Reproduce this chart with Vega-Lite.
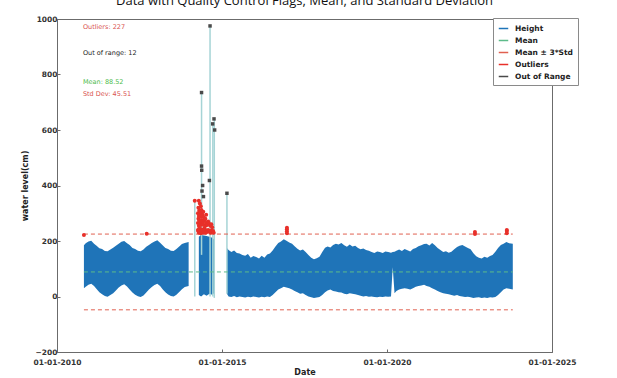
{
  "$schema": "https://vega.github.io/schema/vega-lite/v6.json",
  "width": 495,
  "height": 333,
  "autosize": {"type": "none"},
  "padding": {"left": 57, "top": 19, "right": 65, "bottom": 26},
  "background": "white",
  "title": {"text": "Data with Quality Control Flags, Mean, and Standard Deviation", "anchor": "middle", "frame": "group", "offset": -3, "fontSize": 13, "font": "Open Sans", "fontWeight": "normal", "color": "#111", "baseline": "alphabetic"},
  "datasets": {
    "band": [
      {"d": "2010-10-26", "v": 30, "v2": 185, "g": 1, "series": "Height"},
      {"d": "2010-11-15", "v": 35, "v2": 192, "g": 1, "series": "Height"},
      {"d": "2010-12-15", "v": 42, "v2": 198, "g": 1, "series": "Height"},
      {"d": "2011-01-15", "v": 46, "v2": 201, "g": 1, "series": "Height"},
      {"d": "2011-02-15", "v": 38, "v2": 190, "g": 1, "series": "Height"},
      {"d": "2011-03-15", "v": 27, "v2": 183, "g": 1, "series": "Height"},
      {"d": "2011-04-15", "v": 15, "v2": 174, "g": 1, "series": "Height"},
      {"d": "2011-05-15", "v": 8, "v2": 171, "g": 1, "series": "Height"},
      {"d": "2011-06-15", "v": 2, "v2": 164, "g": 1, "series": "Height"},
      {"d": "2011-07-15", "v": -1, "v2": 163, "g": 1, "series": "Height"},
      {"d": "2011-08-15", "v": 5, "v2": 169, "g": 1, "series": "Height"},
      {"d": "2011-09-15", "v": 12, "v2": 176, "g": 1, "series": "Height"},
      {"d": "2011-10-15", "v": 22, "v2": 183, "g": 1, "series": "Height"},
      {"d": "2011-11-15", "v": 32, "v2": 190, "g": 1, "series": "Height"},
      {"d": "2011-12-15", "v": 40, "v2": 197, "g": 1, "series": "Height"},
      {"d": "2012-01-15", "v": 44, "v2": 200, "g": 1, "series": "Height"},
      {"d": "2012-02-15", "v": 36, "v2": 192, "g": 1, "series": "Height"},
      {"d": "2012-03-15", "v": 25, "v2": 186, "g": 1, "series": "Height"},
      {"d": "2012-04-15", "v": 14, "v2": 175, "g": 1, "series": "Height"},
      {"d": "2012-05-15", "v": 6, "v2": 171, "g": 1, "series": "Height"},
      {"d": "2012-06-15", "v": 1, "v2": 165, "g": 1, "series": "Height"},
      {"d": "2012-07-15", "v": -2, "v2": 163, "g": 1, "series": "Height"},
      {"d": "2012-08-15", "v": 4, "v2": 169, "g": 1, "series": "Height"},
      {"d": "2012-09-15", "v": 14, "v2": 179, "g": 1, "series": "Height"},
      {"d": "2012-10-15", "v": 25, "v2": 186, "g": 1, "series": "Height"},
      {"d": "2012-11-15", "v": 34, "v2": 193, "g": 1, "series": "Height"},
      {"d": "2012-12-15", "v": 41, "v2": 198, "g": 1, "series": "Height"},
      {"d": "2013-01-15", "v": 46, "v2": 203, "g": 1, "series": "Height"},
      {"d": "2013-02-15", "v": 38, "v2": 194, "g": 1, "series": "Height"},
      {"d": "2013-03-15", "v": 26, "v2": 185, "g": 1, "series": "Height"},
      {"d": "2013-04-15", "v": 15, "v2": 175, "g": 1, "series": "Height"},
      {"d": "2013-05-15", "v": 7, "v2": 171, "g": 1, "series": "Height"},
      {"d": "2013-06-15", "v": 2, "v2": 165, "g": 1, "series": "Height"},
      {"d": "2013-07-15", "v": 0, "v2": 164, "g": 1, "series": "Height"},
      {"d": "2013-08-15", "v": 6, "v2": 171, "g": 1, "series": "Height"},
      {"d": "2013-09-15", "v": 16, "v2": 180, "g": 1, "series": "Height"},
      {"d": "2013-10-15", "v": 26, "v2": 189, "g": 1, "series": "Height"},
      {"d": "2013-11-15", "v": 34, "v2": 193, "g": 1, "series": "Height"},
      {"d": "2013-12-28", "v": 38, "v2": 196, "g": 1, "series": "Height"},
      {"d": "2014-04-20", "v": 5, "v2": 215, "g": 2, "series": "Height"},
      {"d": "2014-05-15", "v": 0, "v2": 222, "g": 2, "series": "Height"},
      {"d": "2014-06-15", "v": 8, "v2": 220, "g": 2, "series": "Height"},
      {"d": "2014-07-15", "v": 3, "v2": 218, "g": 2, "series": "Height"},
      {"d": "2014-08-15", "v": 10, "v2": 215, "g": 2, "series": "Height"},
      {"d": "2014-09-15", "v": 6, "v2": 212, "g": 2, "series": "Height"},
      {"d": "2014-10-05", "v": 12, "v2": 205, "g": 2, "series": "Height"},
      {"d": "2015-02-25", "v": 10, "v2": 175, "g": 3, "series": "Height"},
      {"d": "2015-03-15", "v": 0, "v2": 168, "g": 3, "series": "Height"},
      {"d": "2015-04-15", "v": -2, "v2": 160, "g": 3, "series": "Height"},
      {"d": "2015-05-15", "v": 2, "v2": 166, "g": 3, "series": "Height"},
      {"d": "2015-06-15", "v": -3, "v2": 157, "g": 3, "series": "Height"},
      {"d": "2015-07-15", "v": 0, "v2": 155, "g": 3, "series": "Height"},
      {"d": "2015-08-15", "v": -2, "v2": 150, "g": 3, "series": "Height"},
      {"d": "2015-09-15", "v": -4, "v2": 147, "g": 3, "series": "Height"},
      {"d": "2015-10-15", "v": -1, "v2": 153, "g": 3, "series": "Height"},
      {"d": "2015-11-15", "v": -3, "v2": 140, "g": 3, "series": "Height"},
      {"d": "2015-12-15", "v": 0, "v2": 146, "g": 3, "series": "Height"},
      {"d": "2016-01-15", "v": -2, "v2": 142, "g": 3, "series": "Height"},
      {"d": "2016-02-15", "v": -4, "v2": 137, "g": 3, "series": "Height"},
      {"d": "2016-03-15", "v": -1, "v2": 147, "g": 3, "series": "Height"},
      {"d": "2016-04-15", "v": -3, "v2": 140, "g": 3, "series": "Height"},
      {"d": "2016-05-15", "v": 0, "v2": 151, "g": 3, "series": "Height"},
      {"d": "2016-06-15", "v": -2, "v2": 155, "g": 3, "series": "Height"},
      {"d": "2016-07-15", "v": 5, "v2": 166, "g": 3, "series": "Height"},
      {"d": "2016-08-15", "v": 15, "v2": 180, "g": 3, "series": "Height"},
      {"d": "2016-09-15", "v": 25, "v2": 193, "g": 3, "series": "Height"},
      {"d": "2016-10-15", "v": 30, "v2": 198, "g": 3, "series": "Height"},
      {"d": "2016-11-15", "v": 35, "v2": 206, "g": 3, "series": "Height"},
      {"d": "2016-12-15", "v": 32, "v2": 201, "g": 3, "series": "Height"},
      {"d": "2017-01-15", "v": 30, "v2": 195, "g": 3, "series": "Height"},
      {"d": "2017-02-15", "v": 25, "v2": 190, "g": 3, "series": "Height"},
      {"d": "2017-03-15", "v": 20, "v2": 181, "g": 3, "series": "Height"},
      {"d": "2017-04-15", "v": 15, "v2": 172, "g": 3, "series": "Height"},
      {"d": "2017-05-15", "v": 10, "v2": 166, "g": 3, "series": "Height"},
      {"d": "2017-06-15", "v": 12, "v2": 169, "g": 3, "series": "Height"},
      {"d": "2017-07-15", "v": 5, "v2": 160, "g": 3, "series": "Height"},
      {"d": "2017-08-15", "v": 0, "v2": 150, "g": 3, "series": "Height"},
      {"d": "2017-09-15", "v": -3, "v2": 140, "g": 3, "series": "Height"},
      {"d": "2017-10-15", "v": -5, "v2": 134, "g": 3, "series": "Height"},
      {"d": "2017-11-15", "v": -4, "v2": 138, "g": 3, "series": "Height"},
      {"d": "2017-12-15", "v": -2, "v2": 143, "g": 3, "series": "Height"},
      {"d": "2018-01-15", "v": 5, "v2": 160, "g": 3, "series": "Height"},
      {"d": "2018-02-15", "v": 15, "v2": 176, "g": 3, "series": "Height"},
      {"d": "2018-03-15", "v": 22, "v2": 180, "g": 3, "series": "Height"},
      {"d": "2018-04-15", "v": 25, "v2": 177, "g": 3, "series": "Height"},
      {"d": "2018-05-15", "v": 20, "v2": 186, "g": 3, "series": "Height"},
      {"d": "2018-06-15", "v": 18, "v2": 190, "g": 3, "series": "Height"},
      {"d": "2018-07-15", "v": 15, "v2": 187, "g": 3, "series": "Height"},
      {"d": "2018-08-15", "v": 14, "v2": 193, "g": 3, "series": "Height"},
      {"d": "2018-09-15", "v": 10, "v2": 185, "g": 3, "series": "Height"},
      {"d": "2018-10-15", "v": 8, "v2": 179, "g": 3, "series": "Height"},
      {"d": "2018-11-15", "v": 12, "v2": 187, "g": 3, "series": "Height"},
      {"d": "2018-12-15", "v": 10, "v2": 180, "g": 3, "series": "Height"},
      {"d": "2019-01-15", "v": 8, "v2": 183, "g": 3, "series": "Height"},
      {"d": "2019-02-15", "v": 5, "v2": 175, "g": 3, "series": "Height"},
      {"d": "2019-03-15", "v": 3, "v2": 170, "g": 3, "series": "Height"},
      {"d": "2019-04-15", "v": 0, "v2": 173, "g": 3, "series": "Height"},
      {"d": "2019-05-15", "v": 2, "v2": 168, "g": 3, "series": "Height"},
      {"d": "2019-06-15", "v": -1, "v2": 165, "g": 3, "series": "Height"},
      {"d": "2019-07-15", "v": 0, "v2": 160, "g": 3, "series": "Height"},
      {"d": "2019-08-15", "v": -2, "v2": 157, "g": 3, "series": "Height"},
      {"d": "2019-09-15", "v": -3, "v2": 162, "g": 3, "series": "Height"},
      {"d": "2019-10-15", "v": -1, "v2": 160, "g": 3, "series": "Height"},
      {"d": "2019-11-15", "v": -2, "v2": 157, "g": 3, "series": "Height"},
      {"d": "2019-12-15", "v": 0, "v2": 162, "g": 3, "series": "Height"},
      {"d": "2020-01-15", "v": -1, "v2": 160, "g": 3, "series": "Height"},
      {"d": "2020-02-15", "v": 0, "v2": 158, "g": 3, "series": "Height"},
      {"d": "2020-03-05", "v": 105, "v2": 160, "g": 3, "series": "Height"},
      {"d": "2020-03-25", "v": 12, "v2": 161, "g": 3, "series": "Height"},
      {"d": "2020-04-15", "v": 20, "v2": 165, "g": 3, "series": "Height"},
      {"d": "2020-05-15", "v": 25, "v2": 169, "g": 3, "series": "Height"},
      {"d": "2020-06-15", "v": 28, "v2": 164, "g": 3, "series": "Height"},
      {"d": "2020-07-15", "v": 30, "v2": 171, "g": 3, "series": "Height"},
      {"d": "2020-08-15", "v": 28, "v2": 167, "g": 3, "series": "Height"},
      {"d": "2020-09-15", "v": 25, "v2": 162, "g": 3, "series": "Height"},
      {"d": "2020-10-15", "v": 30, "v2": 171, "g": 3, "series": "Height"},
      {"d": "2020-11-15", "v": 35, "v2": 175, "g": 3, "series": "Height"},
      {"d": "2020-12-15", "v": 38, "v2": 181, "g": 3, "series": "Height"},
      {"d": "2021-01-15", "v": 40, "v2": 185, "g": 3, "series": "Height"},
      {"d": "2021-02-15", "v": 42, "v2": 189, "g": 3, "series": "Height"},
      {"d": "2021-03-15", "v": 38, "v2": 190, "g": 3, "series": "Height"},
      {"d": "2021-04-15", "v": 35, "v2": 184, "g": 3, "series": "Height"},
      {"d": "2021-05-15", "v": 30, "v2": 193, "g": 3, "series": "Height"},
      {"d": "2021-06-15", "v": 25, "v2": 185, "g": 3, "series": "Height"},
      {"d": "2021-07-15", "v": 20, "v2": 175, "g": 3, "series": "Height"},
      {"d": "2021-08-15", "v": 15, "v2": 168, "g": 3, "series": "Height"},
      {"d": "2021-09-15", "v": 12, "v2": 160, "g": 3, "series": "Height"},
      {"d": "2021-10-15", "v": 10, "v2": 163, "g": 3, "series": "Height"},
      {"d": "2021-11-15", "v": 8, "v2": 158, "g": 3, "series": "Height"},
      {"d": "2021-12-15", "v": 5, "v2": 161, "g": 3, "series": "Height"},
      {"d": "2022-01-15", "v": 3, "v2": 170, "g": 3, "series": "Height"},
      {"d": "2022-02-15", "v": 5, "v2": 178, "g": 3, "series": "Height"},
      {"d": "2022-03-15", "v": 2, "v2": 183, "g": 3, "series": "Height"},
      {"d": "2022-04-15", "v": 0, "v2": 186, "g": 3, "series": "Height"},
      {"d": "2022-05-15", "v": -2, "v2": 180, "g": 3, "series": "Height"},
      {"d": "2022-06-15", "v": -1, "v2": 175, "g": 3, "series": "Height"},
      {"d": "2022-07-15", "v": -3, "v2": 170, "g": 3, "series": "Height"},
      {"d": "2022-08-15", "v": -5, "v2": 156, "g": 3, "series": "Height"},
      {"d": "2022-09-15", "v": -4, "v2": 145, "g": 3, "series": "Height"},
      {"d": "2022-10-15", "v": -3, "v2": 140, "g": 3, "series": "Height"},
      {"d": "2022-11-15", "v": -5, "v2": 137, "g": 3, "series": "Height"},
      {"d": "2022-12-15", "v": -4, "v2": 143, "g": 3, "series": "Height"},
      {"d": "2023-01-15", "v": -5, "v2": 140, "g": 3, "series": "Height"},
      {"d": "2023-02-15", "v": -3, "v2": 146, "g": 3, "series": "Height"},
      {"d": "2023-03-15", "v": -4, "v2": 150, "g": 3, "series": "Height"},
      {"d": "2023-04-15", "v": -2, "v2": 161, "g": 3, "series": "Height"},
      {"d": "2023-05-15", "v": 5, "v2": 175, "g": 3, "series": "Height"},
      {"d": "2023-06-15", "v": 15, "v2": 186, "g": 3, "series": "Height"},
      {"d": "2023-07-15", "v": 25, "v2": 190, "g": 3, "series": "Height"},
      {"d": "2023-08-15", "v": 30, "v2": 196, "g": 3, "series": "Height"},
      {"d": "2023-09-15", "v": 28, "v2": 192, "g": 3, "series": "Height"},
      {"d": "2023-10-25", "v": 25, "v2": 190, "g": 3, "series": "Height"}
    ],
    "spikes": [
      {"d": "2014-03-06", "v": 0, "v2": 345},
      {"d": "2014-05-20", "v": 150, "v2": 735},
      {"d": "2014-08-22", "v": 0, "v2": 975},
      {"d": "2014-09-22", "v": 0, "v2": 622},
      {"d": "2014-10-08", "v": -5, "v2": 640},
      {"d": "2015-02-25", "v": 10, "v2": 372}
    ],
    "oor": [
      {"d": "2014-05-20", "v": 735, "series": "Out of Range"},
      {"d": "2014-08-22", "v": 975, "series": "Out of Range"},
      {"d": "2014-09-20", "v": 622, "series": "Out of Range"},
      {"d": "2014-10-05", "v": 640, "series": "Out of Range"},
      {"d": "2014-10-12", "v": 600, "series": "Out of Range"},
      {"d": "2014-05-20", "v": 470, "series": "Out of Range"},
      {"d": "2014-05-22", "v": 455, "series": "Out of Range"},
      {"d": "2014-06-01", "v": 400, "series": "Out of Range"},
      {"d": "2014-08-15", "v": 418, "series": "Out of Range"},
      {"d": "2015-02-25", "v": 372, "series": "Out of Range"},
      {"d": "2014-05-25", "v": 380, "series": "Out of Range"},
      {"d": "2014-06-10", "v": 360, "series": "Out of Range"}
    ],
    "outl": [
      {"d": "2010-10-26", "v": 222, "series": "Outliers"},
      {"d": "2012-09-20", "v": 226, "series": "Outliers"},
      {"d": "2014-03-06", "v": 345, "series": "Outliers"},
      {"d": "2014-04-10", "v": 240, "series": "Outliers"},
      {"d": "2014-04-10", "v": 265, "series": "Outliers"},
      {"d": "2014-04-10", "v": 300, "series": "Outliers"},
      {"d": "2014-04-15", "v": 235, "series": "Outliers"},
      {"d": "2014-04-15", "v": 280, "series": "Outliers"},
      {"d": "2014-04-15", "v": 320, "series": "Outliers"},
      {"d": "2014-04-20", "v": 230, "series": "Outliers"},
      {"d": "2014-04-20", "v": 255, "series": "Outliers"},
      {"d": "2014-04-20", "v": 290, "series": "Outliers"},
      {"d": "2014-04-20", "v": 345, "series": "Outliers"},
      {"d": "2014-04-25", "v": 245, "series": "Outliers"},
      {"d": "2014-04-25", "v": 275, "series": "Outliers"},
      {"d": "2014-04-25", "v": 310, "series": "Outliers"},
      {"d": "2014-05-01", "v": 232, "series": "Outliers"},
      {"d": "2014-05-01", "v": 262, "series": "Outliers"},
      {"d": "2014-05-01", "v": 298, "series": "Outliers"},
      {"d": "2014-05-01", "v": 335, "series": "Outliers"},
      {"d": "2014-05-06", "v": 238, "series": "Outliers"},
      {"d": "2014-05-06", "v": 270, "series": "Outliers"},
      {"d": "2014-05-06", "v": 305, "series": "Outliers"},
      {"d": "2014-05-12", "v": 228, "series": "Outliers"},
      {"d": "2014-05-12", "v": 258, "series": "Outliers"},
      {"d": "2014-05-12", "v": 288, "series": "Outliers"},
      {"d": "2014-05-12", "v": 325, "series": "Outliers"},
      {"d": "2014-05-18", "v": 242, "series": "Outliers"},
      {"d": "2014-05-18", "v": 276, "series": "Outliers"},
      {"d": "2014-05-18", "v": 312, "series": "Outliers"},
      {"d": "2014-05-24", "v": 235, "series": "Outliers"},
      {"d": "2014-05-24", "v": 265, "series": "Outliers"},
      {"d": "2014-05-24", "v": 300, "series": "Outliers"},
      {"d": "2014-06-01", "v": 230, "series": "Outliers"},
      {"d": "2014-06-01", "v": 260, "series": "Outliers"},
      {"d": "2014-06-01", "v": 292, "series": "Outliers"},
      {"d": "2014-06-08", "v": 240, "series": "Outliers"},
      {"d": "2014-06-08", "v": 270, "series": "Outliers"},
      {"d": "2014-06-08", "v": 305, "series": "Outliers"},
      {"d": "2014-06-15", "v": 233, "series": "Outliers"},
      {"d": "2014-06-15", "v": 258, "series": "Outliers"},
      {"d": "2014-06-15", "v": 285, "series": "Outliers"},
      {"d": "2014-06-22", "v": 245, "series": "Outliers"},
      {"d": "2014-06-22", "v": 275, "series": "Outliers"},
      {"d": "2014-07-01", "v": 230, "series": "Outliers"},
      {"d": "2014-07-01", "v": 255, "series": "Outliers"},
      {"d": "2014-07-01", "v": 280, "series": "Outliers"},
      {"d": "2014-07-10", "v": 238, "series": "Outliers"},
      {"d": "2014-07-10", "v": 265, "series": "Outliers"},
      {"d": "2014-07-10", "v": 295, "series": "Outliers"},
      {"d": "2014-07-20", "v": 232, "series": "Outliers"},
      {"d": "2014-07-20", "v": 258, "series": "Outliers"},
      {"d": "2014-08-01", "v": 240, "series": "Outliers"},
      {"d": "2014-08-01", "v": 270, "series": "Outliers"},
      {"d": "2014-08-12", "v": 235, "series": "Outliers"},
      {"d": "2014-08-12", "v": 262, "series": "Outliers"},
      {"d": "2014-08-25", "v": 230, "series": "Outliers"},
      {"d": "2014-08-25", "v": 255, "series": "Outliers"},
      {"d": "2014-09-05", "v": 238, "series": "Outliers"},
      {"d": "2014-09-05", "v": 260, "series": "Outliers"},
      {"d": "2014-09-15", "v": 232, "series": "Outliers"},
      {"d": "2014-09-15", "v": 250, "series": "Outliers"},
      {"d": "2014-09-25", "v": 236, "series": "Outliers"},
      {"d": "2014-10-02", "v": 230, "series": "Outliers"},
      {"d": "2016-12-20", "v": 228, "series": "Outliers"},
      {"d": "2016-12-20", "v": 235, "series": "Outliers"},
      {"d": "2016-12-20", "v": 242, "series": "Outliers"},
      {"d": "2016-12-20", "v": 248, "series": "Outliers"},
      {"d": "2022-09-01", "v": 225, "series": "Outliers"},
      {"d": "2022-09-01", "v": 232, "series": "Outliers"},
      {"d": "2023-08-20", "v": 228, "series": "Outliers"},
      {"d": "2023-08-20", "v": 236, "series": "Outliers"},
      {"d": "2023-08-20", "v": 240, "series": "Outliers"}
    ],
    "lines": [
      {"d": "2010-10-26", "d2": "2023-10-25", "v": 88.5, "series": "Mean"},
      {"d": "2010-10-26", "d2": "2023-10-25", "v": 225, "series": "Mean ± 3*Std"},
      {"d": "2010-10-26", "d2": "2023-10-25", "v": -48, "series": "Mean ± 3*Std"}
    ],
    "notes": [
      {"d": "2010-10-15", "v": 971, "kind": "Outliers", "text": "Outliers: 227"},
      {"d": "2010-10-15", "v": 876, "kind": "Out of range", "text": "Out of range: 12"},
      {"d": "2010-10-15", "v": 774, "kind": "Mean", "text": "Mean: 88.52"},
      {"d": "2010-10-15", "v": 729, "kind": "Std Dev", "text": "Std Dev: 45.51"}
    ]
  },
  "encoding": {
    "x": {"field": "d", "type": "temporal", "title": "Date",
      "scale": {"type": "utc", "domain": [{"year": 2010, "month": 1, "date": 1, "utc": true}, {"year": 2025, "month": 1, "date": 1, "utc": true}]},
      "axis": {"values": [{"year": 2010, "month": 1, "date": 1, "utc": true}, {"year": 2015, "month": 1, "date": 1, "utc": true}, {"year": 2020, "month": 1, "date": 1, "utc": true}, {"year": 2025, "month": 1, "date": 1, "utc": true}], "format": "%m-%d-%Y", "labelPadding": 9, "titlePadding": 3, "tickSize": -3, "labelFlush": false, "labelOverlap": false}},
    "y": {"field": "v", "type": "quantitative", "title": "water level(cm)",
      "scale": {"domain": [-200, 1000], "nice": false, "zero": false},
      "axis": {"values": [-200, 0, 200, 400, 600, 800, 1000], "format": "d", "labelPadding": 3, "titlePadding": 6, "tickSize": -3, "labelFlush": false}}
  },
  "layer": [
    {
      "data": {"name": "band"},
      "mark": {"type": "area", "interpolate": "linear", "opacity": 1},
      "encoding": {
        "y2": {"field": "v2"},
        "detail": {"field": "g"},
        "color": {"field": "series", "type": "nominal",
          "scale": {"domain": ["Height", "Mean", "Mean ± 3*Std", "Outliers", "Out of Range"], "range": ["#1f74b8", "#5dbb8a", "#e06050", "#e8302a", "#4a4a4a"]},
          "legend": {"title": null, "orient": "none", "legendX": 436, "legendY": -1, "symbolType": "stroke", "symbolSize": 90, "symbolStrokeWidth": 1.5, "labelFont": "DejaVu Sans", "labelFontWeight": "bold", "labelFontSize": 7.5, "labelColor": "#222", "rowPadding": 3, "padding": 5, "fillColor": "white", "strokeColor": "#8a8a8a", "labelLimit": 200, "labelOffset": 6,
            "encode": {"symbols": {"update": {
              "size": {"value": 225},
              "stroke": {"scale": "color", "field": "value"},
              "fill": {"value": "transparent"},
              "strokeWidth": {"value": 1.5},
              "strokeDash": {"signal": "datum.value === 'Mean' ? [2, 2] : (datum.value === 'Mean ± 3*Std' ? [4, 2] : [])"}
            }}}
          }
        }
      }
    },
    {
      "data": {"name": "spikes"},
      "mark": {"type": "rule", "color": "#a6d4d6", "strokeWidth": 1.5},
      "encoding": {"y2": {"field": "v2"}}
    },
    {
      "data": {"name": "lines"},
      "mark": {"type": "rule", "strokeDash": [4, 3], "strokeWidth": 1},
      "encoding": {
        "x2": {"field": "d2"},
        "color": {"field": "series", "type": "nominal"}
      }
    },
    {
      "data": {"name": "outl"},
      "mark": {"type": "point", "filled": true, "shape": "circle", "size": 16, "opacity": 1},
      "encoding": {"color": {"field": "series", "type": "nominal"}}
    },
    {
      "data": {"name": "oor"},
      "mark": {"type": "point", "filled": true, "shape": "square", "size": 12, "opacity": 1},
      "encoding": {"color": {"field": "series", "type": "nominal"}}
    },
    {
      "data": {"name": "notes"},
      "mark": {"type": "text", "align": "left", "baseline": "middle", "font": "DejaVu Sans", "fontSize": 6.5},
      "encoding": {
        "text": {"field": "text"},
        "fill": {"field": "kind", "type": "nominal", "legend": null,
          "scale": {"domain": ["Outliers", "Out of range", "Mean", "Std Dev"], "range": ["#d9534f", "#222222", "#4cbb4c", "#d9534f"]}}
      }
    }
  ],
  "config": {
    "view": {"stroke": "#6b6b6b", "strokeWidth": 1},
    "axis": {"labelFont": "DejaVu Sans", "labelFontWeight": "bold", "labelFontSize": 7.5, "labelColor": "#333", "titleFont": "DejaVu Sans", "titleFontWeight": "bold", "titleFontSize": 8, "titleColor": "#222", "grid": false, "domainColor": "#6b6b6b", "tickColor": "#6b6b6b"}
  }
}
